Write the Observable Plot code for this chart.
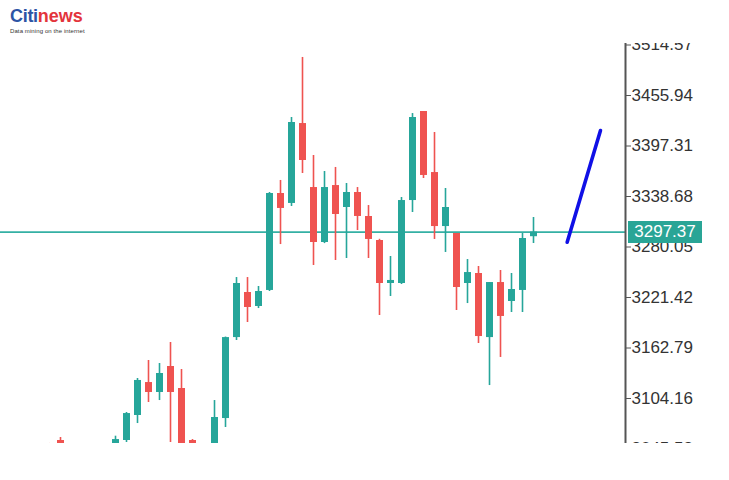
<!DOCTYPE html>
<html><head><meta charset="utf-8">
<script src="https://cdn.jsdelivr.net/npm/d3@7"></script>
<script src="https://cdn.jsdelivr.net/npm/@observablehq/plot@0.6"></script>
<style>
body{margin:0;background:#fff;width:729px;height:480px;position:relative;overflow:hidden;font-family:"Liberation Sans",sans-serif}
#clip{position:absolute;left:0;top:43px;width:729px;height:400px;overflow:hidden}
#clip svg{display:block;margin-top:-43px}
#logo{position:absolute;left:10px;top:6px;line-height:1}
#logo .b{font:bold 18px "Liberation Sans",sans-serif;color:#2d55a5;letter-spacing:-0.3px}
#logo .r{font:bold 18px "Liberation Sans",sans-serif;color:#e3343c}
#logo .t{font:6px "Liberation Sans",sans-serif;color:#333;margin-top:1px;white-space:nowrap;letter-spacing:0.1px}
#price{position:absolute;left:628px;width:74px;height:22px;background:#29a596;color:#fff;font:17px "Liberation Sans",sans-serif;line-height:22px;text-align:center}
</style></head>
<body>
<div id="logo"><span class="b">Citi</span><span class="r">news</span><div class="t">Data mining on the internet</div></div>
<div id="clip"></div>
<script>
const idx   = [-1,0,1,2,3,4,5,6,7,8,9,10,11,12,13,14,15,16,17,18,19,20,21,22,23,24,25,26,27,28,29,30,31,32,33,34,35,36,37,38,39,40,41,42,43];
const open  = [3040,3055.4,3035,3025,3030,3020,3045,3055.4,3084.4,3122.7,3111.1,3141.3,3115.8,3055.4,3040,3035,3080.9,3174.9,3227.2,3211.0,3229.6,3342.2,3330.6,3423.4,3349.1,3285.3,3351.4,3325.9,3343.3,3315.5,3287.6,3237.7,3237.7,3334.0,3437.4,3366.5,3303.8,3295.7,3237.7,3249.3,3174.9,3238.8,3216.8,3229.6,3292.0];
const high  = [3052,3058.9,3042,3035,3038,3040,3060.4,3087.9,3127.4,3148.3,3144.8,3169.2,3137.8,3056.5,3044,3101.8,3175.5,3244.6,3244.6,3234.2,3343.3,3357.3,3430.4,3500.1,3386.3,3367.7,3372.4,3353.8,3349.1,3328.2,3289.0,3269.0,3337.5,3435.0,3437.4,3413.0,3348.0,3295.7,3265.5,3257.4,3238.8,3252.8,3249.3,3295.7,3314.3];
const low   = [3020,3025,3020,3010,3015,3012,3035,3053.1,3075.1,3099.5,3101.8,3053.1,3020,3025,3010,3025,3070.5,3171.5,3192.4,3208.6,3228.4,3282.9,3327.1,3365.4,3258.6,3284.0,3264.4,3266.7,3299.2,3266.7,3200.5,3222.6,3236.5,3320.1,3359.6,3288.8,3273.7,3206.3,3214.4,3168.0,3119.2,3151.8,3204.0,3204.0,3284.1];
const close = [3030,3035,3025,3030,3020,3035,3056.5,3086.7,3125.1,3111.1,3133.2,3111.1,3030,3040,3020,3082.1,3174.9,3237.7,3209.8,3228.4,3342.2,3324.8,3424.6,3380.5,3285.3,3349.1,3317.8,3343.3,3315.5,3288.8,3237.7,3241.2,3334.0,3430.4,3363.1,3303.8,3325.9,3233.0,3250.4,3176.1,3238.8,3199.4,3230.7,3289.9,3297.37];
const yTicks = [3514.57,3455.94,3397.31,3338.68,3280.05,3221.42,3162.79,3104.16,3045.53];
const lastPrice = 3297.37;
const arrowX = [46.06, 49.09];
const arrowY = [3285.6, 3415.3];
const xDomain = [-5.4545, 51.3636];
const yDomain = [3020.57, 3543.02];

const candles = idx.map((i, k) => ({i, o: open[k], h: high[k], l: low[k], c: close[k], up: close[k] >= open[k]}));
const arrow = arrowX.map((x, k) => ({x, y: arrowY[k]}));
const col = d => d.up ? "#26a69a" : "#ef5350";

const chart = Plot.plot({
  width: 729, height: 480,
  marginLeft: 0, marginRight: 104, marginTop: 20, marginBottom: 10,
  style: {background: "#fff", fontFamily: "Liberation Sans, sans-serif", fontSize: "17px", overflow: "visible"},
  x: {type: "linear", domain: xDomain, axis: null},
  y: {domain: yDomain, axis: null},
  marks: [
    Plot.ruleY([lastPrice], {stroke: "#35b0a4", strokeWidth: 1.6}),
    Plot.ruleX(candles, {x: "i", y1: "l", y2: "h", stroke: col, strokeWidth: 1.6}),
    Plot.ruleX(candles, {x: "i", y1: "o", y2: "c", stroke: col, strokeWidth: 7}),
    Plot.line(arrow, {x: "x", y: "y", stroke: "#1010e6", strokeWidth: 3.6, strokeLinecap: "round"}),
    Plot.ruleX([xDomain[1]], {stroke: "#555", strokeWidth: 2}),
    Plot.axisY(yTicks, {anchor: "right", tickSize: 5, tickPadding: 1, fontSize: 17, tickFormat: d => d.toFixed(2), stroke: "#555", fill: "#333"})
  ]
});
document.getElementById("clip").appendChild(chart);
const yPix = chart.scale("y").apply(lastPrice);
const lab = document.createElement("div");
lab.id = "price";
lab.textContent = lastPrice.toFixed(2);
lab.style.top = (yPix - 11) + "px";
document.body.appendChild(lab);
</script>
</body></html>
